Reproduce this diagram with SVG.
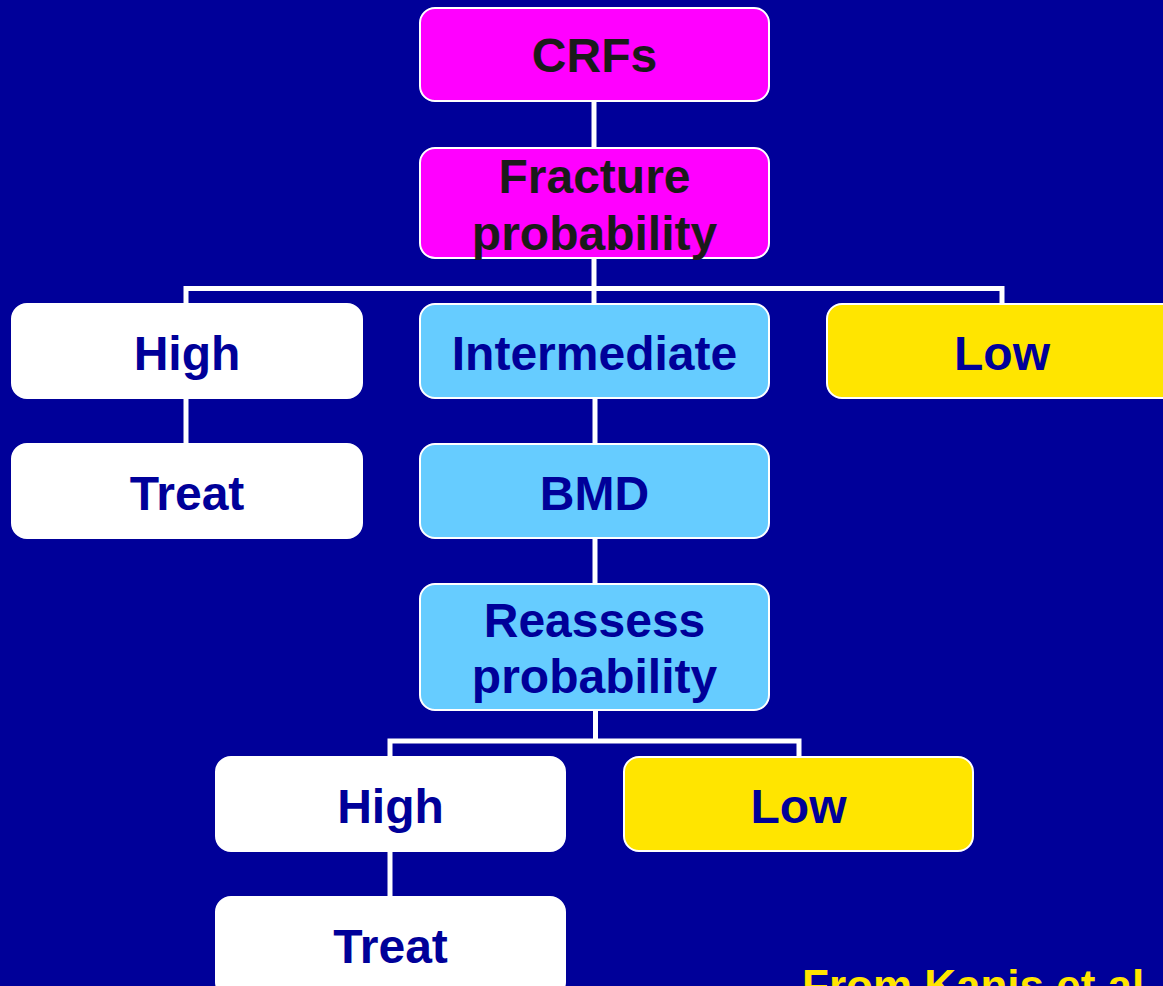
<svg xmlns="http://www.w3.org/2000/svg" width="1163" height="986" viewBox="0 0 1163 986">
<style>
.box{stroke:#ffffff;stroke-width:2}
.mag{fill:#ff00ff}
.wht{fill:#ffffff}
.blu{fill:#66ccff}
.yel{fill:#ffe500}
text{font-family:"Liberation Sans",Arial,sans-serif;font-weight:bold;font-size:48px;text-anchor:middle;fill:#000099}
text.dark{fill:#1a1a1a}
.con{stroke:#ffffff;stroke-width:5;fill:none}
</style>
<rect x="0" y="0" width="1163" height="986" fill="#000099"/>
<g id="connectors">
<line class="con" x1="594" y1="101" x2="594" y2="148"/>
<line class="con" x1="594" y1="258" x2="594" y2="305"/>
<polyline class="con" points="186,305 186,288.5 1002,288.5 1002,305"/>
<line class="con" x1="186" y1="398" x2="186" y2="444"/>
<line class="con" x1="595" y1="398" x2="595" y2="444"/>
<line class="con" x1="595" y1="538" x2="595" y2="584"/>
<line class="con" x1="595.5" y1="710" x2="595.5" y2="741"/>
<polyline class="con" points="390,757 390,741 799,741 799,757"/>
<line class="con" x1="390" y1="851" x2="390" y2="897"/>
</g>
<g id="crfs"><rect class="box mag" x="420" y="8" width="349" height="93" rx="15"/><text class="dark" x="594.5" y="72">CRFs</text></g>
<g id="fracture"><rect class="box mag" x="420" y="148" width="349" height="110" rx="15"/><text class="dark" x="594.5" y="193">Fracture</text><text class="dark" x="594.5" y="250">probability</text></g>
<g id="high1"><rect class="box wht" x="12" y="304" width="350" height="94" rx="15"/><text x="187" y="370">High</text></g>
<g id="intermediate"><rect class="box blu" x="420" y="304" width="349" height="94" rx="15"/><text x="594.5" y="370">Intermediate</text></g>
<g id="low1"><rect class="box yel" x="827" y="304" width="350" height="94" rx="15"/><text x="1002" y="370">Low</text></g>
<g id="treat1"><rect class="box wht" x="12" y="444" width="350" height="94" rx="15"/><text x="187" y="510">Treat</text></g>
<g id="bmd"><rect class="box blu" x="420" y="444" width="349" height="94" rx="15"/><text x="594.5" y="510">BMD</text></g>
<g id="reassess"><rect class="box blu" x="420" y="584" width="349" height="126" rx="15"/><text x="594.5" y="637">Reassess</text><text x="594.5" y="693">probability</text></g>
<g id="high2"><rect class="box wht" x="216" y="757" width="349" height="94" rx="15"/><text x="390.5" y="823">High</text></g>
<g id="low2"><rect class="box yel" x="624" y="757" width="349" height="94" rx="15"/><text x="798.5" y="823">Low</text></g>
<g id="treat2"><rect class="box wht" x="216" y="897" width="349" height="100" rx="15"/><text x="390.5" y="963">Treat</text></g>
<text x="802" y="1001" style="text-anchor:start;font-size:44px;fill:#ffe500">From Kanis et al. (</text>
</svg>
